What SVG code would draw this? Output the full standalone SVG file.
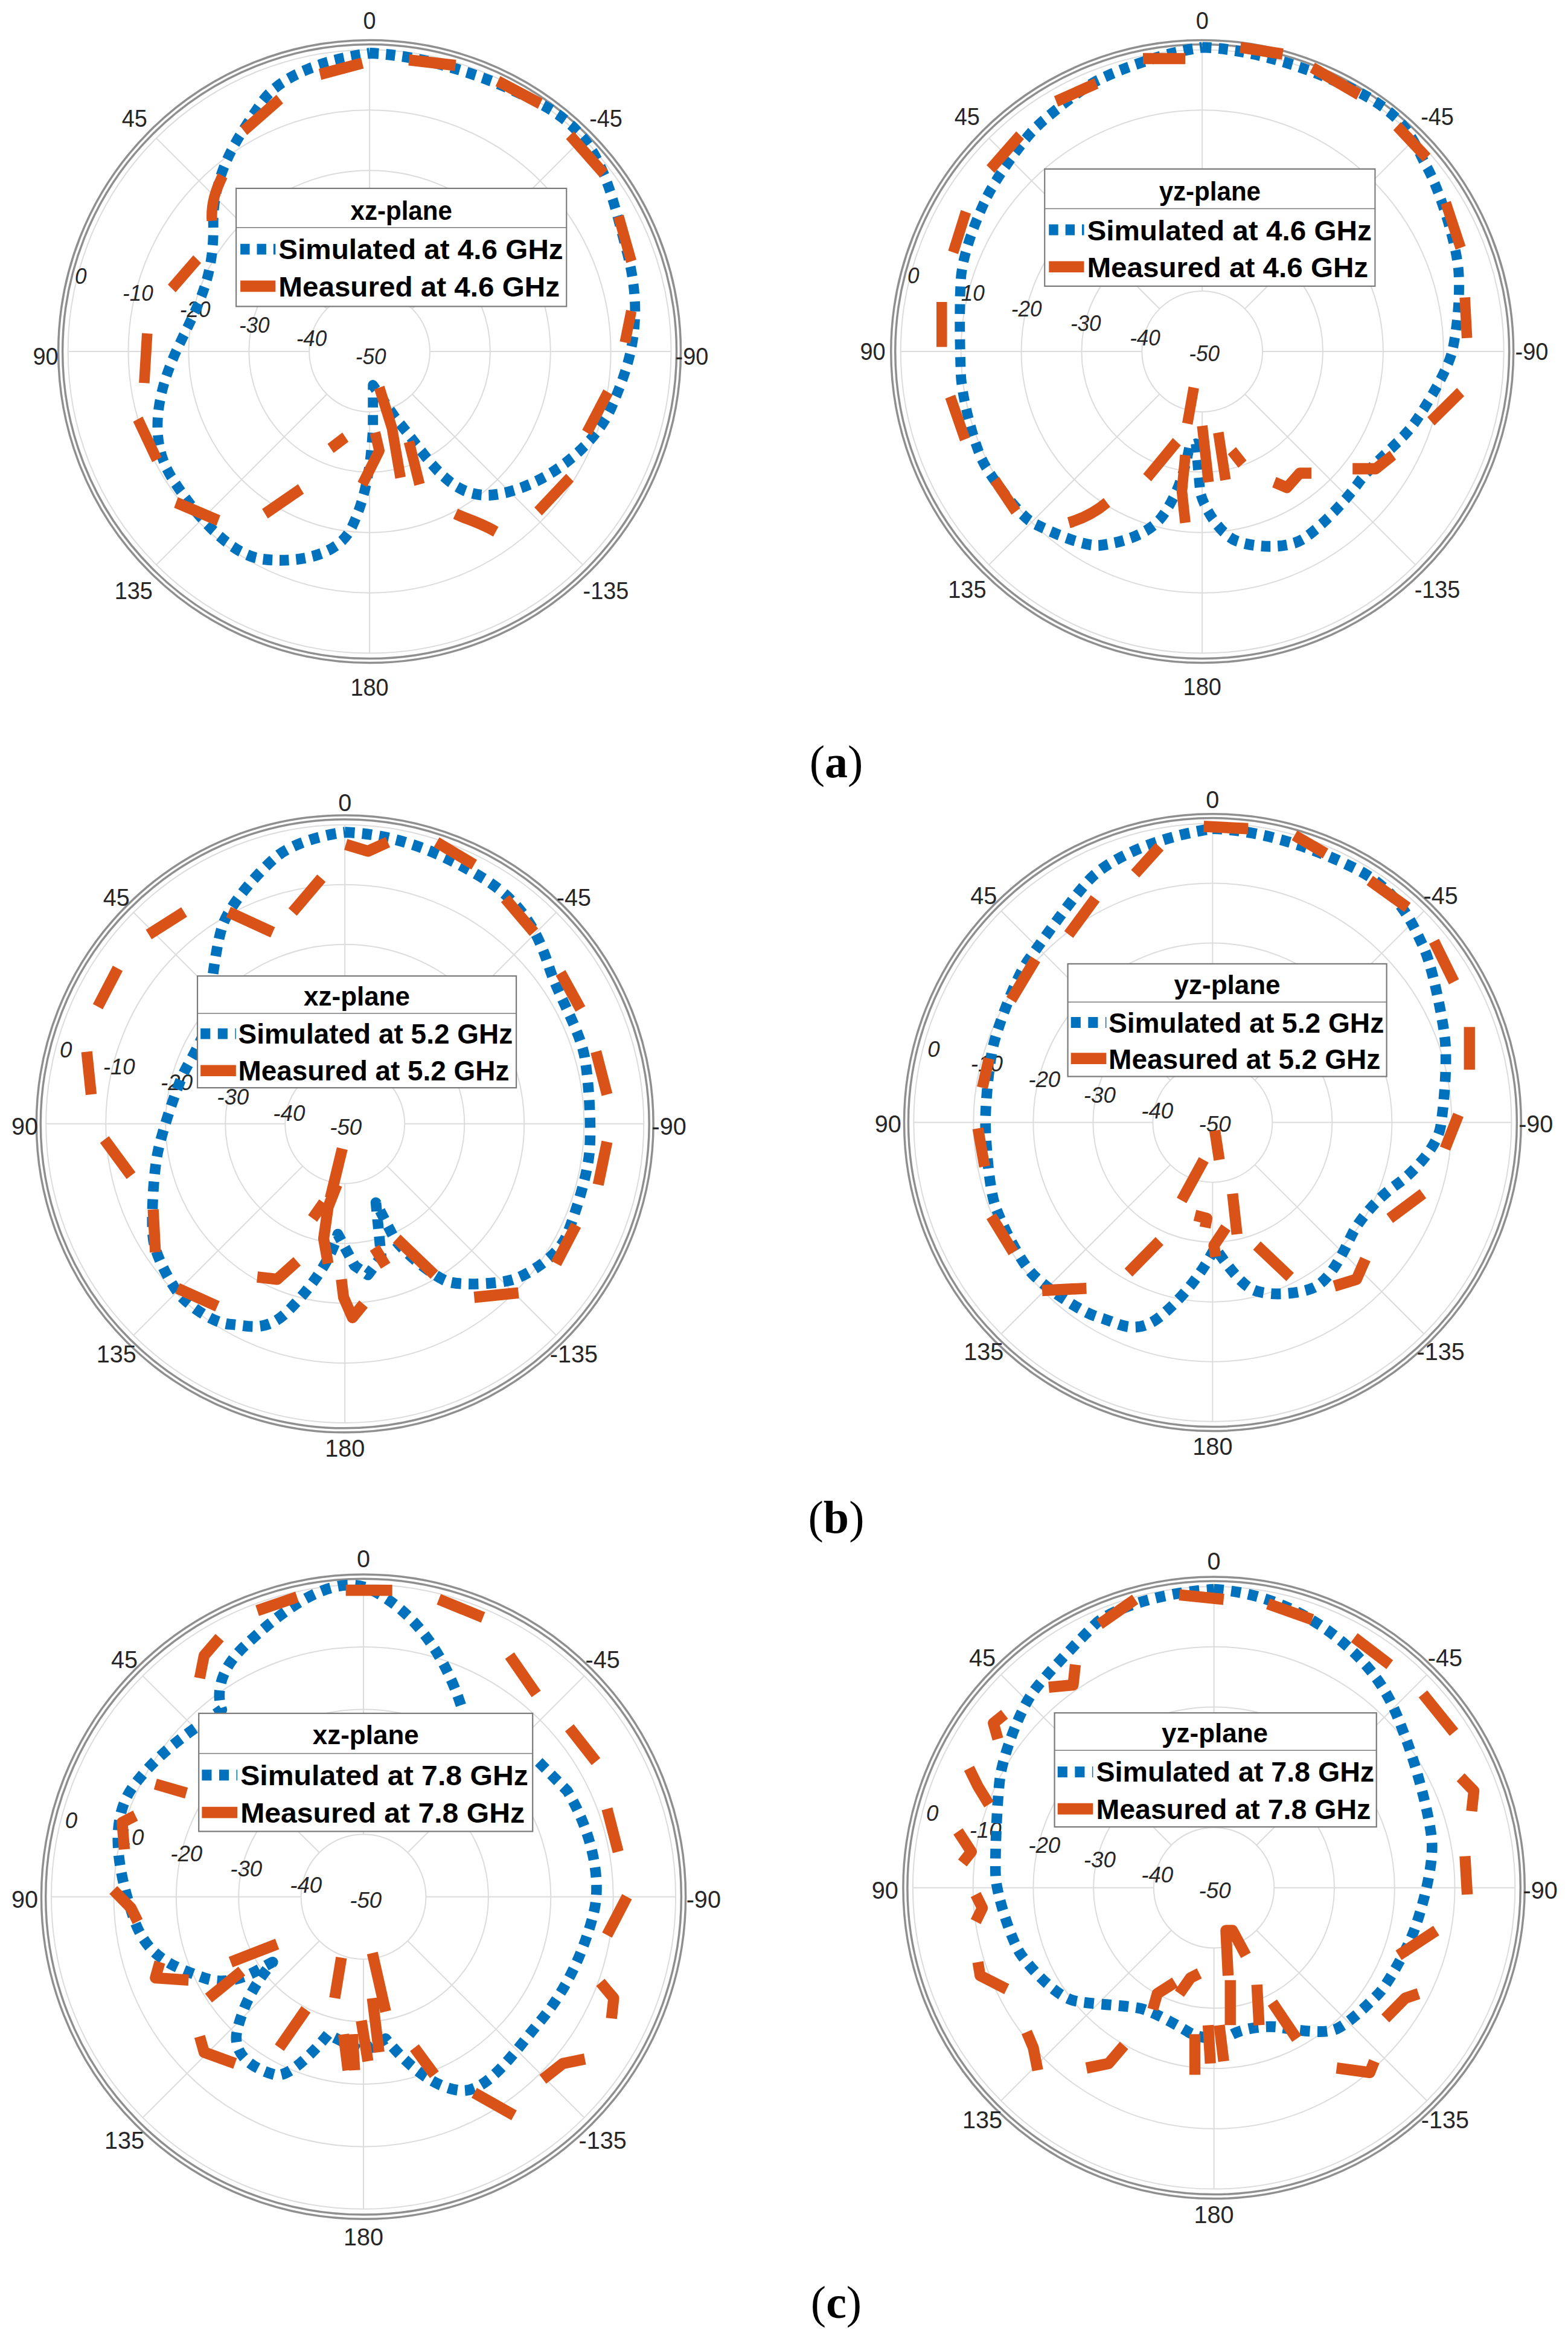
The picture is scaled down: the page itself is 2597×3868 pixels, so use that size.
<svg xmlns="http://www.w3.org/2000/svg" xmlns:xlink="http://www.w3.org/1999/xlink" width="2597" height="3868" viewBox="0 0 2597 3868">
<style>
.ring{fill:none;stroke:#dcdcdc;stroke-width:2}
.outer{fill:none;stroke:#8f8f8f;stroke-width:3.5}
.sim{fill:none;stroke:#0072BD;stroke-width:24;stroke-dasharray:22 17;stroke-linejoin:round}
.mea{fill:none;stroke:#D95319;stroke-width:25;stroke-linejoin:round}
.ang{font-family:"Liberation Sans",Arial,sans-serif;font-size:54px;fill:#262626;text-anchor:middle}
.rad{font-family:"Liberation Sans",Arial,sans-serif;font-size:50px;font-style:italic;fill:#262626;text-anchor:middle}
.lbox{fill:#fff;stroke:#7a7a7a;stroke-width:3}
.ltitle{font-family:"Liberation Sans",Arial,sans-serif;font-size:60px;font-weight:bold;fill:#000;text-anchor:middle}
.ltext{font-family:"Liberation Sans",Arial,sans-serif;font-size:62px;font-weight:bold;fill:#000}
.cap{font-family:"Liberation Serif","Times New Roman",serif;font-size:76px;fill:#000;text-anchor:middle}
</style>
<defs>
<g id="grid">
<circle class="ring" r="100" vector-effect="non-scaling-stroke"/>
<circle class="ring" r="200" vector-effect="non-scaling-stroke"/>
<circle class="ring" r="300" vector-effect="non-scaling-stroke"/>
<circle class="ring" r="400" vector-effect="non-scaling-stroke"/>
<circle class="ring" r="500" vector-effect="non-scaling-stroke"/>
<path class="ring" vector-effect="non-scaling-stroke" d="M100 0L500 0M-100 0L-500 0M0 100L0 500M0 -100L0 -500M70.7 70.7L353.6 353.6M-70.7 70.7L-353.6 353.6M70.7 -70.7L353.6 -353.6M-70.7 -70.7L-353.6 -353.6"/>
<circle class="outer" r="509" vector-effect="non-scaling-stroke"/>
<circle class="outer" r="516" vector-effect="non-scaling-stroke"/>
</g>
</defs>
<rect width="2597" height="3868" fill="#fff"/>

<!-- (a) left -->
<g id="plot-a-xz" transform="translate(60,0) scale(0.7015,0.7462)">
<use xlink:href="#grid" transform="translate(787,780) scale(1.424,1.339)"/>
<text class="ang" x="787" y="64">0</text><text class="ang" x="232" y="281">45</text><text class="ang" x="1345" y="281">-45</text>
<text class="ang" x="22" y="809">90</text><text class="ang" x="1548" y="809">-90</text>
<text class="ang" x="230" y="1329">135</text><text class="ang" x="1345" y="1329">-135</text><text class="ang" x="787" y="1544">180</text>
<text class="rad" x="105" y="630">0</text><text class="rad" x="240" y="668">-10</text><text class="rad" x="375" y="703">-20</text><text class="rad" x="515" y="738">-30</text><text class="rad" x="650" y="768">-40</text><text class="rad" x="790" y="808">-50</text>
<g id="traces-a-xz">
<path class="sim" d="M787 118 C900 122 1050 160 1190 230 S1350 400 1395 560 S1395 820 1360 900 S1220 1070 1100 1095 S930 1020 850 930 L795 855 L795 950 C790 1030 780 1100 745 1170 S600 1250 530 1240 S380 1150 320 1060 S290 860 335 770 S420 620 418 500 S480 300 530 230 S700 130 787 118"/>
<path class="mea" d="M670 165L770 140M880 133L990 145M1090 180L1190 230M1260 300L1340 385M1375 480L1405 580M1405 690L1390 760M1350 870L1300 960M1260 1060L1185 1135M1085 1180C1050 1160 1010 1150 990 1140M625 1085L540 1140M430 1155L330 1115M285 1020L240 930M262 740L255 850M320 640L380 575M415 490C412 450 425 420 440 390M490 290L575 220M810 860L840 950L860 1060M770 1075L810 1000L800 960M695 995L730 970M880 980L905 1075"/>
</g>
<g id="legend-a-xz"><rect class="lbox" x="472" y="418" width="780" height="262"/><line x1="472" y1="505" x2="1252" y2="505" stroke="#7a7a7a" stroke-width="2"/>
<text class="ltitle" x="862" y="488">xz-plane</text>
<line x1="482" y1="553" x2="565" y2="553" class="sim" stroke-dasharray="22 14"/><text class="ltext" x="572" y="575" textLength="672" lengthAdjust="spacingAndGlyphs">Simulated at 4.6 GHz</text>
<line x1="482" y1="635" x2="565" y2="635" class="mea"/><text class="ltext" x="572" y="658" textLength="664" lengthAdjust="spacingAndGlyphs">Measured at 4.6 GHz</text></g>
</g>

<!-- (a) right -->
<g id="plot-a-yz" transform="translate(1430,0) scale(0.7015,0.7462)">
<use xlink:href="#grid" transform="translate(800,780) scale(1.424,1.339)"/>
<text class="ang" x="800" y="64">0</text><text class="ang" x="245" y="278">45</text><text class="ang" x="1355" y="278">-45</text>
<text class="ang" x="22" y="799">90</text><text class="ang" x="1578" y="799">-90</text>
<text class="ang" x="245" y="1327">135</text><text class="ang" x="1355" y="1327">-135</text><text class="ang" x="800" y="1542">180</text>
<text class="rad" x="118" y="629">0</text><text class="rad" x="250" y="667">-10</text><text class="rad" x="385" y="702">-20</text><text class="rad" x="525" y="734">-30</text><text class="rad" x="665" y="767">-40</text><text class="rad" x="805" y="802">-50</text>
<g id="traces-a-yz">
<path class="sim" d="M800 105 C900 108 1030 140 1160 200 S1300 320 1330 370 S1400 540 1405 600 S1400 740 1390 780 S1330 900 1300 940 S1200 1030 1170 1070 S1080 1170 1040 1195 S920 1215 880 1200 S800 1120 795 1090 L785 985 L770 990 C760 1040 745 1090 710 1140 S600 1205 560 1210 S430 1175 400 1160 S300 1060 280 1020 S232 880 230 830 S226 680 230 620 S270 480 290 440 S370 320 400 290 S510 200 550 180 S700 118 800 105"/>
<path class="mea" d="M660 130L760 130M455 225L550 185M300 375L370 300M212 560L242 470M185 770L185 670M205 880L240 975M310 1065L360 1135M485 1160C520 1150 550 1135 575 1115M670 1060L740 980M760 1160L752 1090L760 1010M765 940L780 860M800 945L815 1070M838 960L855 1065M870 1000L895 1030M970 1070L1000 1082L1030 1050L1058 1050M1155 1040L1210 1040L1250 1010M1340 935L1410 870M1420 660L1425 750M1375 450L1410 550M1260 280L1330 350M1060 150L1170 210M890 105L990 120"/>
</g>
<g id="legend-a-yz"><rect class="lbox" x="428" y="375" width="780" height="260"/><line x1="428" y1="463" x2="1208" y2="463" stroke="#7a7a7a" stroke-width="2"/>
<text class="ltitle" x="818" y="445">yz-plane</text>
<line x1="438" y1="510" x2="521" y2="510" class="sim" stroke-dasharray="22 14"/><text class="ltext" x="528" y="533" textLength="672" lengthAdjust="spacingAndGlyphs">Simulated at 4.6 GHz</text>
<line x1="438" y1="592" x2="521" y2="592" class="mea"/><text class="ltext" x="528" y="615" textLength="664" lengthAdjust="spacingAndGlyphs">Measured at 4.6 GHz</text></g>
</g>

<!-- (b) left -->
<g id="plot-b-xz" transform="translate(30,1290) scale(0.7334,0.7462)">
<use xlink:href="#grid" transform="translate(738,765) scale(1.35,1.327)"/>
<text class="ang" x="738" y="71">0</text><text class="ang" x="222" y="282">45</text><text class="ang" x="1255" y="282">-45</text>
<text class="ang" x="15" y="789">90</text><text class="ang" x="1470" y="789">-90</text>
<text class="ang" x="222" y="1294">135</text><text class="ang" x="1255" y="1294">-135</text><text class="ang" x="738" y="1504">180</text>
<text class="rad" x="108" y="618">0</text><text class="rad" x="228" y="655">-10</text><text class="rad" x="358" y="690">-20</text><text class="rad" x="485" y="723">-30</text><text class="rad" x="612" y="758">-40</text><text class="rad" x="740" y="790">-50</text>
<g id="traces-b-xz">
<path class="sim" d="M738 118 C850 122 950 160 1050 220 S1180 360 1200 420 S1270 560 1280 620 S1295 780 1290 830 S1260 960 1240 1010 S1150 1100 1120 1110 S1000 1125 970 1115 S870 1050 850 1020 L808 940 L820 1060 L790 1100 L760 1080 L722 1010 C705 1070 660 1130 610 1180 S520 1212 480 1210 S390 1170 370 1150 S310 1060 305 1020 S305 880 315 830 S360 680 375 650 S425 570 430 520 S445 380 460 330 S540 210 580 175 S700 122 738 118"/>
<path class="mea" d="M740 145L790 160L835 140M945 140L1030 190M1100 265L1165 340M1225 430L1270 510M1305 605L1330 700M1330 805L1310 900M1260 990L1215 1075M1130 1140L1030 1150M940 1100L855 1020M830 1080L805 1040M780 1165L755 1195L735 1150L730 1110M700 1075L690 1020L700 950L720 900M705 930L732 820M665 975L690 940M630 1070L585 1110L540 1105M450 1170L360 1130M310 1050L305 955M255 880L195 800M165 700L155 605M180 505L225 420M295 345L375 295M475 295L575 340M620 295L685 220"/>
</g>
<g id="legend-b-xz"><rect class="lbox" x="405" y="437" width="720" height="248"/><line x1="405" y1="520" x2="1125" y2="520" stroke="#7a7a7a" stroke-width="2"/>
<text class="ltitle" x="765" y="502">xz-plane</text>
<line x1="412" y1="565" x2="492" y2="565" class="sim" stroke-dasharray="22 14"/><text class="ltext" x="497" y="587" textLength="620" lengthAdjust="spacingAndGlyphs">Simulated at 5.2 GHz</text>
<line x1="412" y1="647" x2="492" y2="647" class="mea"/><text class="ltext" x="497" y="669" textLength="612" lengthAdjust="spacingAndGlyphs">Measured at 5.2 GHz</text></g>
</g>

<!-- (b) right -->
<g id="plot-b-yz" transform="translate(1440,1290) scale(0.7334,0.7462)">
<use xlink:href="#grid" transform="translate(775,762) scale(1.35,1.327)"/>
<text class="ang" x="775" y="64">0</text><text class="ang" x="258" y="277">45</text><text class="ang" x="1290" y="277">-45</text>
<text class="ang" x="42" y="784">90</text><text class="ang" x="1505" y="784">-90</text>
<text class="ang" x="258" y="1289">135</text><text class="ang" x="1290" y="1289">-135</text><text class="ang" x="775" y="1499">180</text>
<text class="rad" x="145" y="616">0</text><text class="rad" x="265" y="648">-10</text><text class="rad" x="395" y="683">-20</text><text class="rad" x="520" y="718">-30</text><text class="rad" x="650" y="753">-40</text><text class="rad" x="780" y="783">-50</text>
<g id="traces-b-yz">
<path class="sim" d="M775 110 C880 113 1000 150 1100 200 S1230 330 1250 370 S1295 530 1300 580 S1298 720 1290 770 S1220 880 1190 900 S1110 970 1090 1010 S1040 1115 1000 1130 S890 1148 860 1130 S795 1060 780 1040 C760 1080 720 1140 660 1190 S560 1205 520 1195 S400 1130 370 1100 S300 990 285 950 S262 800 262 760 S270 630 280 590 S330 440 360 400 S460 260 500 220 S640 130 775 110"/>
<path class="mea" d="M755 105L855 110M960 125L1030 165M1130 225L1215 285M1275 360L1320 450M1355 550L1355 645M1330 745L1300 820M1250 920L1175 975M1120 1065L1100 1110L1050 1125M950 1105L875 1035M820 920L830 1010M805 995L778 1035L782 1060M735 968L762 975L758 995M755 845L705 935M780 780L790 845M655 1025L585 1095M490 1130L390 1135M325 1050L275 970M260 860L245 775M255 685L270 620M320 490L375 400M450 345L510 265M600 210L655 150"/>
</g>
<g id="legend-b-yz"><rect class="lbox" x="448" y="410" width="720" height="250"/><line x1="448" y1="495" x2="1168" y2="495" stroke="#7a7a7a" stroke-width="2"/>
<text class="ltitle" x="808" y="477">yz-plane</text>
<line x1="455" y1="540" x2="535" y2="540" class="sim" stroke-dasharray="22 14"/><text class="ltext" x="540" y="563" textLength="622" lengthAdjust="spacingAndGlyphs">Simulated at 5.2 GHz</text>
<line x1="455" y1="620" x2="535" y2="620" class="mea"/><text class="ltext" x="540" y="643" textLength="614" lengthAdjust="spacingAndGlyphs">Measured at 5.2 GHz</text></g>
</g>

<!-- (c) left -->
<g id="plot-c-xz" transform="translate(30,2540) scale(0.7334,0.7462)">
<use xlink:href="#grid" transform="translate(780,805) scale(1.41,1.386)"/>
<text class="ang" x="780" y="74">0</text><text class="ang" x="240" y="297">45</text><text class="ang" x="1320" y="297">-45</text>
<text class="ang" x="15" y="829">90</text><text class="ang" x="1548" y="829">-90</text>
<text class="ang" x="240" y="1364">135</text><text class="ang" x="1320" y="1364">-135</text><text class="ang" x="780" y="1579">180</text>
<text class="rad" x="120" y="653">0</text><text class="rad" x="248" y="690">-10</text><text class="rad" x="380" y="726">-20</text><text class="rad" x="515" y="760">-30</text><text class="rad" x="650" y="796">-40</text><text class="rad" x="785" y="830">-50</text>
<g id="traces-c-xz">
<path class="sim" d="M1000 380 C960 260 890 170 800 125 S590 175 510 250 S460 390 460 390 C400 430 320 480 260 560 S230 760 260 850 S350 960 420 985 S550 960 575 950 C540 990 510 1040 495 1100 S540 1190 580 1200 S700 1110 700 1110 L740 1130 L780 1150 L830 1120 C880 1180 940 1230 1000 1235 S1120 1150 1180 1080 S1280 920 1300 840 S1290 650 1240 570 L1170 500"/>
<path class="mea" d="M540 170L630 140M740 125L845 125M950 145L1050 185M1110 270L1170 355M1245 430L1305 505M1330 610L1355 705M1375 805L1330 890M1315 995L1345 1030L1340 1075M1280 1165L1230 1175L1185 1210M1120 1290L1030 1240M940 1200L895 1140M800 930L830 1060M800 1030L815 1150M775 1080L790 1170M755 1110L760 1190M735 1110L745 1190M730 940L715 1030M650 1055L590 1140M490 1175L420 1150L410 1115M320 950L310 985L385 990M480 950L585 910M430 1030L505 970M270 860L255 830L215 790M240 700L235 640L265 625M310 555L380 575M410 320L420 270L455 230"/>
</g>
<g id="legend-c-xz"><rect class="lbox" x="408" y="398" width="754" height="262"/><line x1="408" y1="487" x2="1162" y2="487" stroke="#7a7a7a" stroke-width="2"/>
<text class="ltitle" x="785" y="467">xz-plane</text>
<line x1="415" y1="535" x2="495" y2="535" class="sim" stroke-dasharray="22 14"/><text class="ltext" x="502" y="557" textLength="650" lengthAdjust="spacingAndGlyphs">Simulated at 7.8 GHz</text>
<line x1="415" y1="618" x2="495" y2="618" class="mea"/><text class="ltext" x="502" y="641" textLength="642" lengthAdjust="spacingAndGlyphs">Measured at 7.8 GHz</text></g>
</g>

<!-- (c) right -->
<g id="plot-c-yz" transform="translate(1440,2540) scale(0.7334,0.7462)">
<use xlink:href="#grid" transform="translate(778,785) scale(1.36,1.337)"/>
<text class="ang" x="778" y="79">0</text><text class="ang" x="255" y="294">45</text><text class="ang" x="1300" y="294">-45</text>
<text class="ang" x="35" y="809">90</text><text class="ang" x="1515" y="809">-90</text>
<text class="ang" x="255" y="1319">135</text><text class="ang" x="1300" y="1319">-135</text><text class="ang" x="778" y="1529">180</text>
<text class="rad" x="142" y="636">0</text><text class="rad" x="262" y="674">-10</text><text class="rad" x="395" y="708">-20</text><text class="rad" x="520" y="740">-30</text><text class="rad" x="650" y="773">-40</text><text class="rad" x="780" y="808">-50</text>
<g id="traces-c-yz">
<path class="sim" d="M778 123 C880 128 990 170 1080 250 S1190 400 1210 450 S1265 620 1270 680 S1245 840 1230 880 S1170 1000 1150 1020 S1080 1090 1050 1100 S960 1100 930 1095 S850 1095 820 1110 S745 1120 720 1105 S650 1065 620 1055 S500 1045 460 1035 S360 960 340 930 S287 800 285 760 S288 590 295 540 S340 390 370 350 S480 230 510 200 S650 130 778 123"/>
<path class="mea" d="M520 200L600 145M700 135L800 145M900 155L1000 190M1095 230L1175 290M1250 355L1320 440M1335 540L1365 570L1360 615M1345 715L1350 800M1280 880L1195 935M1240 1020L1210 1030L1165 1075M1140 1170L1130 1195L1055 1185M965 1120L910 1040M880 1090L875 1000M850 935L820 880L805 880L810 980M815 990L815 1090M790 1090L800 1170M765 1090L770 1175M735 1110L735 1200M745 975L725 985L700 1020M690 995L650 1020L640 1055M575 1135L540 1175L490 1185M380 1190L370 1140L355 1105M310 1010L250 980L245 950M240 860L255 830L240 800M210 730L230 705L200 660M270 600L245 560L225 520M290 455L280 420L305 400M405 340L460 335L465 290"/>
</g>
<g id="legend-c-yz"><rect class="lbox" x="418" y="397" width="727" height="253"/><line x1="418" y1="480" x2="1145" y2="480" stroke="#7a7a7a" stroke-width="2"/>
<text class="ltitle" x="780" y="462">yz-plane</text>
<line x1="425" y1="528" x2="505" y2="528" class="sim" stroke-dasharray="22 14"/><text class="ltext" x="512" y="550" textLength="628" lengthAdjust="spacingAndGlyphs">Simulated at 7.8 GHz</text>
<line x1="425" y1="610" x2="505" y2="610" class="mea"/><text class="ltext" x="512" y="633" textLength="620" lengthAdjust="spacingAndGlyphs">Measured at 7.8 GHz</text></g>
</g>

<g id="captions">
<text class="cap" x="1385" y="1287">(<tspan font-weight="bold">a</tspan>)</text>
<text class="cap" x="1385" y="2538">(<tspan font-weight="bold">b</tspan>)</text>
<text class="cap" x="1385" y="3838">(<tspan font-weight="bold">c</tspan>)</text>
</g>
</svg>
